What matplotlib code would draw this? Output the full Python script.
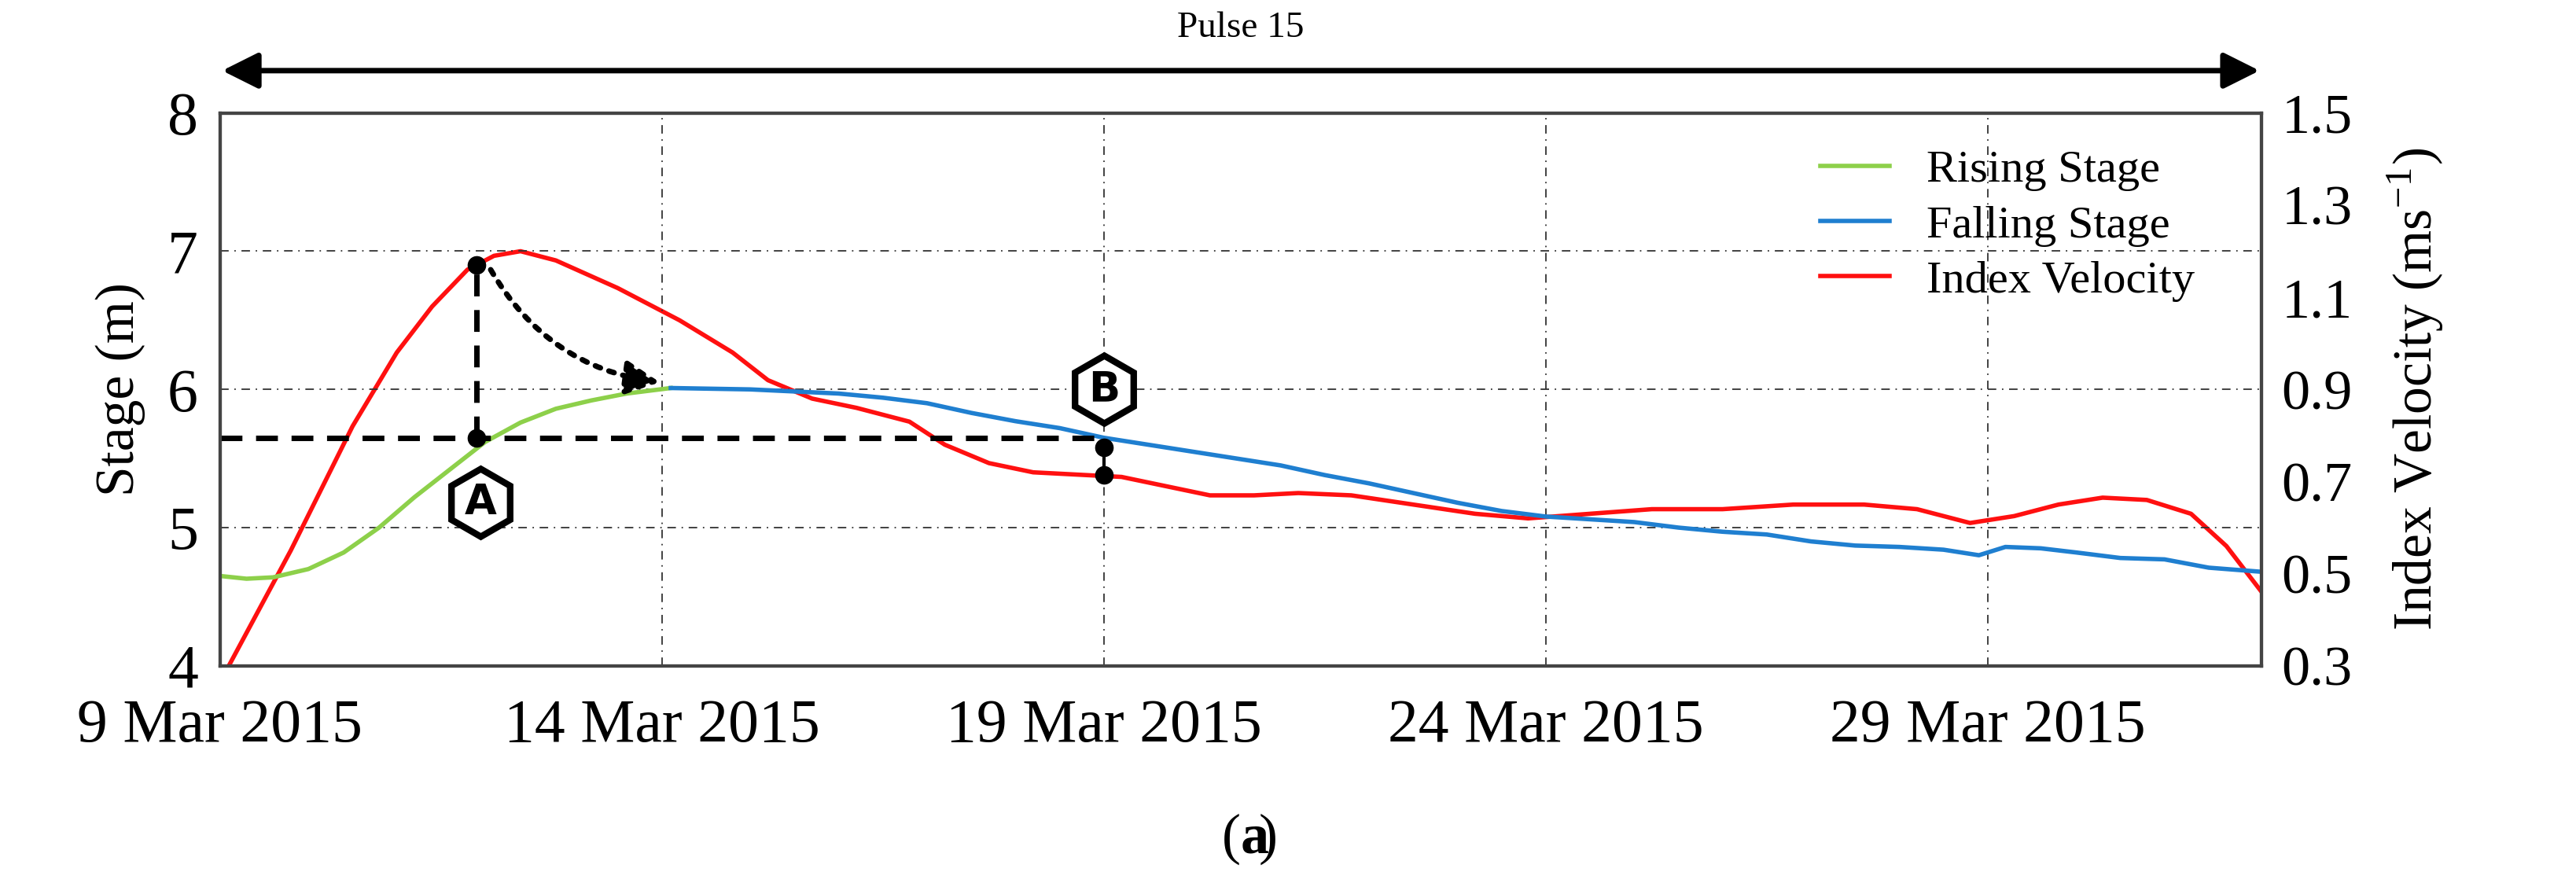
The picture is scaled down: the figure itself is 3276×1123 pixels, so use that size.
import matplotlib
matplotlib.use("Agg")
import matplotlib.pyplot as plt
import numpy as np
from matplotlib.patches import FancyArrowPatch

plt.rcParams['font.family'] = ['Liberation Serif', 'DejaVu Serif']
plt.rcParams['mathtext.fontset'] = 'stix'

# days after 9 Mar 2015
rise_day = [0, 0.3, 0.6, 1.0, 1.4, 1.8, 2.2, 2.6, 3.0, 3.4, 3.8, 4.2, 4.6, 5.1]
rise_stage = [4.65, 4.63, 4.64, 4.7, 4.82, 5.0, 5.22, 5.42, 5.62, 5.76, 5.86, 5.92, 5.97, 6.01]
fall_day = [5.1, 6.0, 7.0, 7.5, 8.0, 8.5, 9.0, 9.5, 10.0, 10.5, 11.0, 11.5, 12.0, 12.5, 13.0, 13.5, 14.0, 14.5, 15.0, 15.5, 16.0, 16.5, 17.0, 17.5, 18.0, 18.5, 19.0, 19.5, 19.9, 20.2, 20.6, 21.0, 21.5, 22.0, 22.5, 23.1]
fall_stage = [6.01, 6.0, 5.97, 5.94, 5.9, 5.83, 5.77, 5.72, 5.65, 5.6, 5.55, 5.5, 5.45, 5.38, 5.32, 5.25, 5.18, 5.12, 5.08, 5.06, 5.04, 5.0, 4.97, 4.95, 4.9, 4.87, 4.86, 4.84, 4.8, 4.86, 4.85, 4.82, 4.78, 4.77, 4.71, 4.68]
vel_day = [0.1, 0.8, 1.5, 2.0, 2.4, 2.8, 3.1, 3.4, 3.8, 4.5, 5.2, 5.8, 6.2, 6.7, 7.2, 7.8, 8.2, 8.7, 9.2, 9.7, 10.2, 10.7, 11.2, 11.7, 12.2, 12.8, 13.5, 14.2, 14.8, 15.5, 16.2, 17.0, 17.8, 18.6, 19.2, 19.8, 20.3, 20.8, 21.3, 21.8, 22.3, 22.7, 23.1]
vel = [0.3, 0.55, 0.82, 0.98, 1.08, 1.16, 1.19, 1.2, 1.18, 1.12, 1.05, 0.98, 0.92, 0.88, 0.86, 0.83, 0.78, 0.74, 0.72, 0.715, 0.71, 0.69, 0.67, 0.67, 0.675, 0.67, 0.65, 0.63, 0.62, 0.63, 0.64, 0.64, 0.65, 0.65, 0.64, 0.61, 0.625, 0.65, 0.665, 0.66, 0.63, 0.56, 0.46]
xtick_days = [0, 5, 10, 15, 20]
xtick_labels = ['9 Mar 2015', '14 Mar 2015', '19 Mar 2015', '24 Mar 2015', '29 Mar 2015']

fig = plt.figure(figsize=(32.76, 11.23), dpi=100)
ax = fig.add_axes([0.0854, 0.246, 0.7926, 0.626])
ax2 = ax.twinx()
ax.set_zorder(ax2.get_zorder() + 1)
ax.patch.set_visible(False)

l1, = ax.plot(rise_day, rise_stage, color='#8dd04a', lw=4, label='Rising Stage')
l2, = ax.plot(fall_day, fall_stage, color='#1f7fd0', lw=4, label='Falling Stage')
l3, = ax2.plot(vel_day, vel, color='#ff1010', lw=4, label='Index Velocity')

ax.set_xlim(0, 23.1)
ax.set_ylim(4, 8)
ax2.set_ylim(0.3, 1.5)
ax.set_xticks(xtick_days)
ax.set_xticklabels(xtick_labels)
ax.set_yticks([4, 5, 6, 7, 8])
ax2.set_yticks([0.3, 0.5, 0.7, 0.9, 1.1, 1.3, 1.5])
ax2.set_yticklabels(['0.3', '0.5', '0.7', '0.9', '1.1', '1.3', '1.5'])
ax.tick_params(axis='x', labelsize=56, length=0, pad=30)
ax.tick_params(axis='y', labelsize=56, length=0, pad=20)
ax2.tick_params(labelsize=52, length=0, pad=18)
ax.grid(True, ls=(0, (6, 4, 1, 4)), color='#333333', lw=1.3)
for a in (ax, ax2):
    for s in a.spines.values():
        s.set_linewidth(3)
        s.set_color('#444444')
ax.set_ylabel('Stage (m)', fontsize=50, labelpad=20)
ax2.set_ylabel('Index Velocity (ms$^{\\mathregular{-1}}$)', fontsize=50, labelpad=30)

ax.legend(handles=[l1, l2, l3], loc='upper right', frameon=False, fontsize=42,
          handlelength=1.5, borderaxespad=0.4, labelspacing=0.3, bbox_to_anchor=(0.985, 1.0))

# annotations
ax.plot([2.9, 2.9], [5.65, 6.9], ls=(0, (4, 2.5)), color='black', lw=5)
ax.plot([0, 10], [5.65, 5.65], ls=(0, (4, 2.5)), color='black', lw=5)
ax.plot([2.9, 2.9, 10, 10], [5.65, 6.9, 5.58, 5.38], 'o', color='black', ms=16)
ax.plot([10, 10], [5.58, 5.38], color='black', lw=3)
ax.add_patch(FancyArrowPatch((3.05, 6.88), (5.0, 6.05), connectionstyle='arc3,rad=0.25',
                             arrowstyle='-|>,head_length=1.2,head_width=0.6', ls=':', lw=5,
                             color='black', mutation_scale=22, zorder=5))
for lab, (xd, yd) in {'A': (2.95, 5.18), 'B': (10.0, 6.0)}.items():
    ax.plot(xd, yd, marker='h', ms=62, mfc='white', mec='black', mew=6, zorder=6)
    ax.text(xd, yd, lab, ha='center', va='center', fontsize=38, fontweight='bold',
            family='DejaVu Sans', zorder=7)

# pulse arrow
fig.add_artist(FancyArrowPatch((0.0854, 0.92), (0.878, 0.92), transform=fig.transFigure,
                               arrowstyle='<|-|>,head_length=1.4,head_width=0.7', lw=5,
                               color='black', mutation_scale=20))
fig.text(0.4817, 0.968, 'Pulse 15', ha='center', va='center', fontsize=34)
fig.text(0.4817, 0.05, '(', ha='right', va='center', fontsize=52)
fig.text(0.4817, 0.05, 'a', ha='left', va='center', fontsize=52, fontweight='bold')
fig.text(0.4887, 0.05, ')', ha='left', va='center', fontsize=52)

fig.savefig('out.png', dpi=100)
